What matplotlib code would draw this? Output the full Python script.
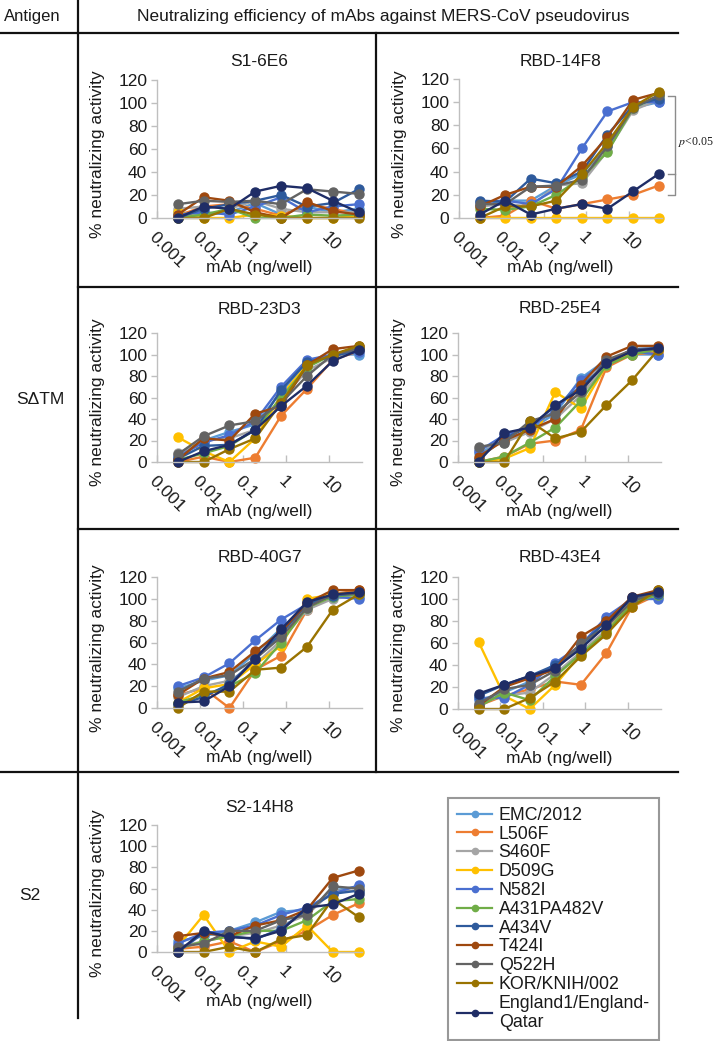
import matplotlib
matplotlib.use('Agg')
import matplotlib.pyplot as plt
from matplotlib.lines import Line2D
from matplotlib.ticker import FixedLocator, LogLocator, NullFormatter

plt.rcParams['font.family'] = ['Liberation Sans', 'DejaVu Sans']
plt.rcParams['mathtext.fontset'] = 'stix'

W, H = 716, 1041

# mAb dose, ng/well (4-fold dilutions)
dose = [0.00305, 0.0122, 0.0488, 0.195, 0.781, 3.125, 12.5, 50]

strains = ['EMC/2012', 'L506F', 'S460F', 'D509G', 'N582I', 'A431PA482V',
           'A434V', 'T424I', 'Q522H', 'KOR/KNIH/002', 'England1/England-\nQatar']
colors = ['#5B9BD5', '#ED7D31', '#A5A5A5', '#FFC000', '#4A6FD0', '#70AD47',
          '#2E5A9C', '#9E480E', '#636363', '#997300', '#1F2D66']

s1_6e6 = [
    [5, 3, 5, 13, 3, 10, 5, 8],
    [2, 10, 12, 8, 2, 12, 8, 3],
    [8, 10, 8, 15, 8, 5, 5, 5],
    [5, 0, 0, 3, 2, 0, 0, 2],
    [3, 5, 3, 10, 18, 5, 10, 12],
    [0, 3, 8, 0, 0, 3, 2, 3],
    [0, 8, 12, 15, 20, 10, 13, 25],
    [3, 18, 15, 5, 0, 14, 6, 3],
    [12, 15, 14, 15, 12, 25, 23, 21],
    [0, 0, 8, 3, 0, 0, 0, 0],
    [0, 10, 8, 23, 28, 26, 15, 5],
]
rbd_14f8 = [
    [10, 15, 15, 28, 38, 62, 95, 100],
    [0, 2, 15, 8, 12, 16, 20, 28],
    [10, 12, 10, 28, 30, 58, 93, 102],
    [0, 0, 0, 0, 0, 0, 0, 0],
    [14, 15, 12, 25, 60, 92, 100, 100],
    [8, 7, 10, 20, 35, 57, 95, 105],
    [15, 14, 34, 30, 40, 72, 97, 103],
    [10, 20, 27, 27, 45, 70, 102, 108],
    [12, 12, 27, 28, 33, 62, 95, 106],
    [0, 10, 10, 15, 38, 65, 96, 109],
    [3, 15, 3, 8, 12, 8, 23, 38],
]
rbd_23d3 = [
    [5, 20, 28, 35, 65, 93, 100, 100],
    [0, 5, 0, 4, 43, 68, 95, 103],
    [8, 20, 22, 30, 58, 85, 97, 103],
    [23, 10, 0, 22, 62, 90, 100, 105],
    [5, 18, 25, 38, 70, 95, 100, 102],
    [2, 8, 15, 30, 60, 88, 100, 106],
    [3, 15, 16, 30, 67, 93, 98, 105],
    [2, 22, 20, 45, 52, 90, 105, 108],
    [7, 24, 34, 38, 55, 80, 100, 105],
    [0, 0, 12, 22, 55, 90, 100, 108],
    [0, 10, 16, 30, 52, 71, 94, 104],
]
rbd_25e4 = [
    [8, 20, 30, 45, 78, 95, 100, 100],
    [0, 5, 17, 20, 30, 88, 100, 102],
    [12, 18, 28, 40, 62, 90, 102, 104],
    [0, 3, 13, 65, 50, 90, 102, 104],
    [10, 25, 32, 48, 76, 94, 103, 100],
    [0, 5, 18, 32, 57, 90, 100, 105],
    [3, 22, 33, 52, 70, 92, 105, 106],
    [5, 20, 30, 40, 72, 98, 108, 108],
    [14, 18, 38, 45, 65, 95, 104, 105],
    [0, 0, 38, 22, 28, 53, 76, 104],
    [0, 27, 32, 53, 67, 92, 103, 106],
]
rbd_40g7 = [
    [18, 25, 30, 50, 73, 94, 102, 102],
    [12, 18, 0, 35, 48, 90, 104, 108],
    [10, 20, 25, 40, 62, 90, 100, 103],
    [5, 18, 22, 40, 57, 100, 104, 106],
    [20, 28, 41, 62, 81, 95, 102, 100],
    [5, 12, 20, 32, 60, 92, 102, 104],
    [3, 10, 22, 45, 68, 95, 103, 105],
    [12, 27, 33, 52, 70, 96, 108, 108],
    [15, 27, 30, 45, 65, 92, 104, 105],
    [0, 15, 15, 35, 37, 56, 90, 104],
    [5, 6, 20, 45, 72, 97, 104, 106],
]
rbd_43e4 = [
    [8, 15, 25, 40, 55, 82, 100, 102],
    [3, 12, 18, 25, 22, 51, 93, 104],
    [5, 12, 15, 32, 52, 72, 97, 103],
    [61, 12, 0, 22, 50, 70, 97, 104],
    [10, 10, 22, 42, 58, 84, 100, 100],
    [2, 15, 8, 30, 50, 70, 96, 104],
    [12, 22, 30, 40, 58, 80, 100, 105],
    [3, 20, 28, 36, 66, 80, 102, 108],
    [5, 18, 22, 35, 60, 75, 98, 106],
    [0, 0, 10, 25, 48, 68, 93, 108],
    [14, 22, 30, 37, 55, 76, 102, 106],
]
s2_14h8 = [
    [10, 15, 20, 28, 38, 40, 58, 62],
    [3, 5, 10, 0, 10, 20, 35, 46],
    [5, 10, 15, 18, 25, 35, 58, 58],
    [5, 35, 0, 10, 5, 25, 0, 0],
    [8, 18, 20, 25, 35, 42, 55, 63],
    [3, 10, 15, 20, 20, 30, 48, 50],
    [0, 18, 15, 12, 22, 40, 55, 58],
    [15, 18, 15, 25, 30, 40, 70, 77],
    [5, 8, 20, 20, 30, 35, 62, 60],
    [0, 0, 5, 0, 12, 16, 50, 33],
    [0, 20, 14, 13, 20, 42, 45, 55],
]

# (name, values, left px, top px, bottom px, width px, title gap px)
panels = [
    ('S1-6E6', s1_6e6, 157, 80, 218, 205, 18),
    ('RBD-14F8', rbd_14f8, 459, 79, 218, 203, 17),
    ('RBD-23D3', rbd_23d3, 157, 333, 462, 205, 24),
    ('RBD-25E4', rbd_25e4, 458, 333, 462, 203, 25),
    ('RBD-40G7', rbd_40g7, 157, 577, 708, 205, 19),
    ('RBD-43E4', rbd_43e4, 458, 577, 709, 203, 19),
    ('S2-14H8', s2_14h8, 157, 825, 952, 205, 18),
]

fig = plt.figure(figsize=(W / 100, H / 100), dpi=100)
axis_gray = '#BFBFBF'
txt = '#1A1A1A'

axes = {}
for name, vals, left, top, bottom, width, tgap in panels:
    h = bottom - top
    ax = fig.add_axes([left / W, 1 - bottom / H, width / W, h / H])
    axes[name] = ax
    for v, c in zip(vals, colors):
        ax.plot(dose, v, color=c, lw=1.7, marker='o', ms=6.5, mec=c,
                clip_on=False)
    ax.set_xscale('log')
    ax.set_xlim(0.001, 60)
    ax.set_ylim(0, 120)
    ax.set_yticks(range(0, 121, 20))
    ax.xaxis.set_major_locator(FixedLocator([0.001, 0.01, 0.1, 1, 10]))
    ax.xaxis.set_minor_locator(LogLocator(base=10, subs=range(2, 10)))
    ax.xaxis.set_minor_formatter(NullFormatter())
    ax.set_xticklabels(['0.001', '0.01', '0.1', '1', '10'], rotation=-45,
                       ha='left', va='top', rotation_mode='anchor')
    for s in ['top', 'right']:
        ax.spines[s].set_visible(False)
    for s in ['left', 'bottom']:
        ax.spines[s].set_color(axis_gray)
        ax.spines[s].set_linewidth(1.0)
    ax.tick_params(axis='y', length=4, width=1, color=axis_gray,
                   labelsize=12.5, labelcolor=txt, pad=3)
    ax.tick_params(axis='x', which='major', direction='in', length=5, width=1,
                   color=axis_gray, labelsize=12.5, labelcolor=txt, pad=8)
    ax.tick_params(axis='x', which='minor', direction='in', length=3,
                   width=0.8, color=axis_gray)
    ax.patch.set_alpha(0)
    ax.text(0.5, 1 + tgap / h, name, transform=ax.transAxes, ha='center',
            va='center', fontsize=12.5, color=txt)
    ax.set_xlabel('mAb (ng/well)', fontsize=12.5, color=txt)
    ax.xaxis.set_label_coords(0.5, -42 / h)
    ax.set_ylabel('% neutralizing activity', fontsize=12.5, color=txt)
    ax.yaxis.set_label_coords(-52 / width, 0.46)

# significance bracket on RBD-14F8
ax = axes['RBD-14F8']
tr = ax.get_yaxis_transform()
bx0, bx1 = 1.03, 1.065
ax.plot([bx0, bx1, bx1, bx0], [105, 105, 20, 20], color='#8C8C8C', lw=1,
        transform=tr, clip_on=False)
ax.plot([bx0, bx1], [38, 38], color='#8C8C8C', lw=1, transform=tr,
        clip_on=False)
ax.text(1.08, 66, r'$p$<0.05', transform=tr, fontsize=8.5,
        family='Liberation Serif', ha='left', va='center', color=txt)

# table frame
def hline(y, x0, x1):
    fig.add_artist(Line2D([x0 / W, x1 / W], [1 - y / H, 1 - y / H],
                          color='#111111', lw=1.6))

def vline(x, y0, y1):
    fig.add_artist(Line2D([x / W, x / W], [1 - y0 / H, 1 - y1 / H],
                          color='#111111', lw=1.6))

hline(33, 0, 678)
hline(287, 78, 678)
hline(529, 78, 678)
hline(772, 0, 678)
vline(78, 0, 1018)
vline(376, 33, 772)

fig.text(4 / W, 1 - 16 / H, 'Antigen', fontsize=12, ha='left', va='center',
         color=txt)
fig.text(383 / W, 1 - 16 / H,
         'Neutralizing efficiency of mAbs against MERS-CoV pseudovirus',
         fontsize=12.5, ha='center', va='center', color=txt)
fig.text(40 / W, 1 - 400 / H, 'S\u0394TM', fontsize=12.5, ha='center',
         va='center', color=txt)
fig.text(30 / W, 1 - 895 / H, 'S2', fontsize=12.5, ha='center', va='center',
         color=txt)

# legend
handles = [Line2D([], [], color=c, lw=1.6, marker='o', ms=4.5) for c in colors]
leg = fig.legend(handles, strains, loc='upper left',
                 bbox_to_anchor=(448 / W, 1 - 798 / H), borderaxespad=0,
                 fontsize=12.8, frameon=True, fancybox=False,
                 edgecolor='#7F7F7F', handlelength=2.0, handletextpad=0.35,
                 labelspacing=0.1, borderpad=0.5)
leg.get_frame().set_linewidth(1.5)
for t in leg.get_texts():
    t.set_color(txt)

fig.savefig('out.png', dpi=100)
